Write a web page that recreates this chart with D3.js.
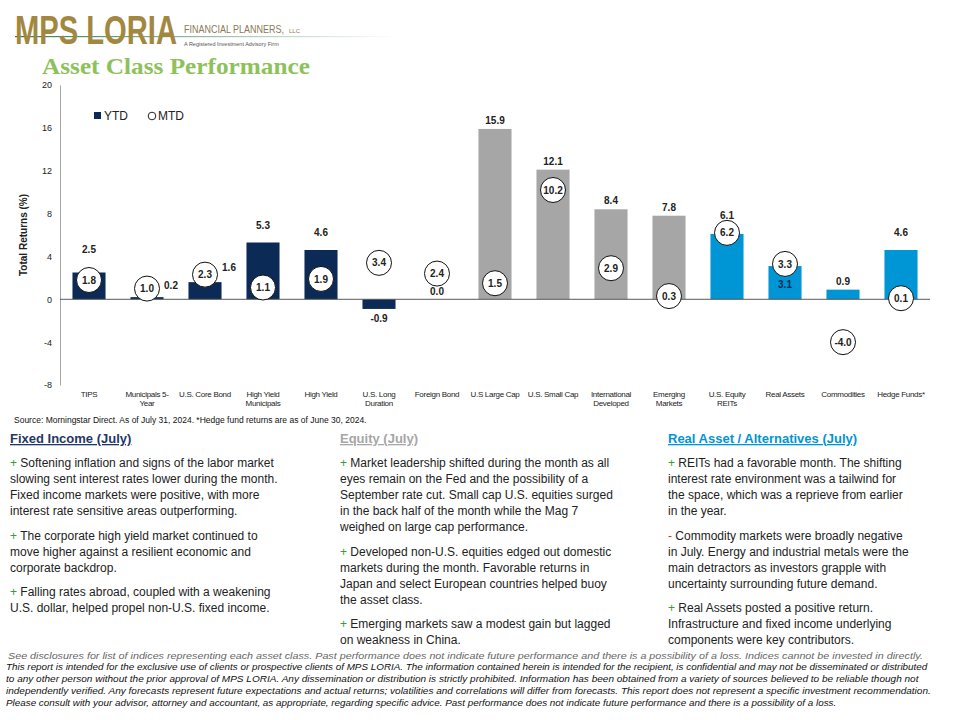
<!DOCTYPE html>
<html>
<head>
<meta charset="utf-8">
<script src="https://cdn.jsdelivr.net/npm/d3@7"></script>
<style>
  body { margin: 0; background: #fff; }
  svg { font-family: "Liberation Sans", Arial, sans-serif; }
</style>
</head>
<body>
<div id="chart"></div>
<script>
// categories and values
var categories = ["TIPS", "Municipals 5-Year", "U.S. Core Bond", "High Yield Municipals", "High Yield",
  "U.S. Long Duration", "Foreign Bond", "U.S Large Cap", "U.S. Small Cap", "International Developed",
  "Emerging Markets", "U.S. Equity REITs", "Real Assets", "Commodities", "Hedge Funds*"];
var categoryLines = [["TIPS"], ["Municipals 5-", "Year"], ["U.S. Core Bond"], ["High Yield", "Municipals"], ["High Yield"],
  ["U.S. Long", "Duration"], ["Foreign Bond"], ["U.S Large Cap"], ["U.S. Small Cap"], ["International", "Developed"],
  ["Emerging", "Markets"], ["U.S. Equity", "REITs"], ["Real Assets"], ["Commodities"], ["Hedge Funds*"]];
var groups = ["fixed", "fixed", "fixed", "fixed", "fixed", "fixed", "fixed",
  "equity", "equity", "equity", "equity", "real", "real", "real", "real"];
var ytd = [2.5, 0.2, 1.6, 5.3, 4.6, -0.9, 0.0, 15.9, 12.1, 8.4, 7.8, 6.1, 3.1, 0.9, 4.6];
var mtd = [1.8, 1.0, 2.3, 1.1, 1.9, 3.4, 2.4, 1.5, 10.2, 2.9, 0.3, 6.2, 3.3, -4.0, 0.1];
var yTicks = [-8, -4, 0, 4, 8, 12, 16, 20];

// label nudges so YTD labels dodge the MTD circles [dx, dy]
var ytdNudge = [[0, -15], [24, -3], [24, -6], [0, -9], [0, -9], [0, 0], [0, 1], [0, 0], [0, 0], [0, 0],
  [0, 0], [0, -10], [0, 27], [0, 0], [0, -9]];

var groupColor = { fixed: "#0b2a55", equity: "#a6a6a6", real: "#0095d5" };

var W = 960, H = 720;
var svg = d3.select("#chart").append("svg").attr("width", W).attr("height", H);

// ---- header ----
var grad = svg.append("defs").append("linearGradient").attr("id", "fade");
grad.append("stop").attr("offset", "0%").attr("stop-color", "#2e7d4f");
grad.append("stop").attr("offset", "100%").attr("stop-color", "#2e7d4f").attr("stop-opacity", 0);
svg.append("rect").attr("x", 15).attr("y", 36).attr("width", 380).attr("height", 1.2).attr("fill", "url(#fade)");

// logo text squeezed horizontally
var logo = svg.append("text").attr("font-size", 40).attr("font-weight", "bold").attr("fill", "#a3873f")
  .text("MPS LORIA");
var lw = logo.node().getComputedTextLength();
logo.attr("transform", "translate(15,44) scale(" + (162 / lw) + ",1)");

var fp = svg.append("text").attr("font-size", 10).attr("fill", "#8a7a55").text("FINANCIAL PLANNERS,");
var fw = fp.node().getComputedTextLength();
fp.attr("transform", "translate(184,33) scale(" + (100 / fw) + ",1)");
svg.append("text").attr("x", 289).attr("y", 33).attr("font-size", 6).attr("fill", "#8a7a55").text("LLC");
svg.append("text").attr("x", 184).attr("y", 46).attr("font-size", 5.5).attr("fill", "#555")
  .text("A Registered Investment Advisory Firm");

var title = svg.append("text")
  .attr("font-family", "'Liberation Serif', 'DejaVu Serif', serif")
  .attr("font-size", 24).attr("font-weight", "bold").attr("fill", "#8dc25a")
  .text("Asset Class Performance");
var tw = title.node().getComputedTextLength();
title.attr("transform", "translate(42,74) scale(" + (268 / tw) + ",1)");

// ---- chart ----
var x = d3.scaleBand().domain(categories).range([60, 930]).paddingInner(0.43).paddingOuter(0.215);
var y = d3.scaleLinear().domain([-8, 20]).range([385, 85]);

var yAxis = svg.append("g").attr("transform", "translate(60,0)")
  .call(d3.axisLeft(y).tickValues(yTicks).tickSize(0).tickPadding(8).tickFormat(function(d) { return String(d); }));
yAxis.select(".domain").attr("stroke", "#a6a6a6");
yAxis.selectAll("text").attr("font-size", 9).attr("fill", "#222")
  .attr("font-family", "'Liberation Sans', Arial, sans-serif");

svg.append("text").attr("transform", "translate(27,235) rotate(-90)")
  .attr("text-anchor", "middle").attr("font-size", 10).attr("font-weight", "bold").attr("fill", "#222")
  .text("Total Returns (%)");

var data = categories.map(function(c, i) {
  return { cat: c, ytd: ytd[i], mtd: mtd[i], group: groups[i], lines: categoryLines[i], nudge: ytdNudge[i] };
});

svg.selectAll(".bar").data(data).enter().append("rect")
  .attr("class", "bar")
  .attr("x", function(d) { return x(d.cat); })
  .attr("width", x.bandwidth())
  .attr("y", function(d) { return y(Math.max(0, d.ytd)); })
  .attr("height", function(d) { return Math.abs(y(d.ytd) - y(0)); })
  .attr("fill", function(d) { return groupColor[d.group]; });

svg.append("line").attr("x1", 60).attr("x2", 930).attr("y1", y(0)).attr("y2", y(0))
  .attr("stroke", "#595959").attr("stroke-width", 1);

// YTD labels
svg.selectAll(".ytdLabel").data(data).enter().append("text")
  .attr("class", "ytdLabel")
  .attr("text-anchor", "middle").attr("font-size", 10).attr("font-weight", "bold")
  .attr("fill", function(d) { return d.cat === "Real Assets" ? "#0b2a55" : "#222"; })
  .attr("x", function(d) { return x(d.cat) + x.bandwidth() / 2 + d.nudge[0]; })
  .attr("y", function(d) {
    var base = d.ytd < 0 ? y(d.ytd) + 13 : y(d.ytd) - 5;
    return base + d.nudge[1];
  })
  .text(function(d) { return d.ytd.toFixed(1); });

// MTD circles
var mt = svg.selectAll(".mtd").data(data).enter().append("g").attr("class", "mtd")
  .attr("transform", function(d) { return "translate(" + (x(d.cat) + x.bandwidth() / 2) + "," + y(d.mtd) + ")"; });
mt.append("circle").attr("r", 12.5).attr("fill", "#fff").attr("stroke", "#111").attr("stroke-width", 1);
mt.append("text").attr("text-anchor", "middle").attr("dy", "0.36em")
  .attr("font-size", 10).attr("font-weight", "bold").attr("fill", "#222")
  .text(function(d) { return d.mtd.toFixed(1); });

// category labels
svg.selectAll(".cat").data(data).enter().append("text")
  .attr("class", "cat").attr("text-anchor", "middle")
  .attr("font-size", 8).attr("letter-spacing", "-0.3").attr("fill", "#222")
  .attr("x", function(d) { return x(d.cat) + x.bandwidth() / 2; })
  .attr("y", 397)
  .each(function(d) {
    var t = d3.select(this);
    d.lines.forEach(function(l, i) {
      t.append("tspan").attr("x", x(d.cat) + x.bandwidth() / 2).attr("dy", i === 0 ? 0 : 9).text(l);
    });
  });

// legend
svg.append("rect").attr("x", 94).attr("y", 112).attr("width", 7).attr("height", 7).attr("fill", "#0b2a55");
svg.append("text").attr("x", 104).attr("y", 120).attr("font-size", 12).attr("fill", "#222").text("YTD");
svg.append("circle").attr("cx", 152).attr("cy", 116).attr("r", 3.8).attr("fill", "#fff").attr("stroke", "#222");
svg.append("text").attr("x", 158).attr("y", 120).attr("font-size", 12).attr("fill", "#222").text("MTD");

svg.append("text").attr("x", 14).attr("y", 423).attr("font-size", 8.5).attr("fill", "#111")
  .text("Source: Morningstar Direct. As of July 31, 2024. *Hedge fund returns are as of June 30, 2024.");

// ---- commentary ----
var fixedHead = "Fixed Income (July)";
var fixedText = [
  ["+", "Softening inflation and signs of the labor market", "slowing sent interest rates lower during the month.",
   "Fixed income markets were positive, with more", "interest rate sensitive areas outperforming."],
  ["+", "The corporate high yield market continued to", "move higher against a resilient economic and", "corporate backdrop."],
  ["+", "Falling rates abroad, coupled with a weakening", "U.S. dollar, helped propel non-U.S. fixed income."]
];
var equityHead = "Equity (July)";
var equityText = [
  ["+", "Market leadership shifted during the month as all", "eyes remain on the Fed and the possibility of a",
   "September rate cut. Small cap U.S. equities surged", "in the back half of the month while the Mag 7",
   "weighed on large cap performance."],
  ["+", "Developed non-U.S. equities edged out domestic", "markets during the month. Favorable returns in",
   "Japan and select European countries helped buoy", "the asset class."],
  ["+", "Emerging markets saw a modest gain but lagged", "on weakness in China."]
];
var realHead = "Real Asset / Alternatives (July)";
var realText = [
  ["+", "REITs had a favorable month. The shifting", "interest rate environment was a tailwind for",
   "the space, which was a reprieve from earlier", "in the year."],
  ["-", "Commodity markets were broadly negative", "in July. Energy and industrial metals were the",
   "main detractors as investors grapple with", "uncertainty surrounding future demand."],
  ["+", "Real Assets posted a positive return.", "Infrastructure and fixed income underlying",
   "components were key contributors."]
];

function column(x0, head, headColor, paras) {
  var g = svg.append("g");
  g.append("text").attr("x", x0).attr("y", 443).attr("font-size", 13).attr("font-weight", "bold")
    .attr("fill", headColor).attr("text-decoration", "underline").text(head);
  var yy = 467;
  paras.forEach(function(p) {
    var lines = p.slice(1);
    lines.forEach(function(l, i) {
      var t = g.append("text").attr("x", x0).attr("y", yy).attr("font-size", 12).attr("fill", "#222");
      if (i === 0) {
        t.append("tspan").attr("fill", p[0] === "+" ? "#3a9a3a" : "#d03030").text(p[0] + " ");
      }
      t.append("tspan").text(l);
      yy += 16;
    });
    yy += 8.5;
  });
}
column(10, fixedHead, "#1f3864", fixedText);
column(340, equityHead, "#a6a6a6", equityText);
column(668, realHead, "#0095d5", realText);

// ---- footer ----
var disclaimer = "See disclosures for list of indices representing each asset class. Past performance does not indicate future performance and there is a possibility of a loss. Indices cannot be invested in directly.";
var footer = [
  ["This report is intended for the exclusive use of clients or prospective clients of MPS LORIA. The information contained herein is intended for the recipient, is confidential and may not be disseminated or distributed", 921],
  ["to any other person without the prior approval of MPS LORIA. Any dissemination or distribution is strictly prohibited. Information has been obtained from a variety of sources believed to be reliable though not", 913],
  ["independently verified. Any forecasts represent future expectations and actual returns; volatilities and correlations will differ from forecasts. This report does not represent a specific investment recommendation.", 926],
  ["Please consult with your advisor, attorney and accountant, as appropriate, regarding specific advice. Past performance does not indicate future performance and there is a possibility of a loss.", 830]
];
function squeezed(str, x0, y0, width, size, color) {
  var t = svg.append("text").attr("font-size", size).attr("font-style", "italic").attr("fill", color).text(str);
  var w = t.node().getComputedTextLength();
  t.attr("transform", "translate(" + x0 + "," + y0 + ") scale(" + (width / w) + ",1)");
}
squeezed(disclaimer, 8, 659, 917, 9, "#666");
footer.forEach(function(f, i) {
  squeezed(f[0], 6, 670 + i * 12, f[1], 8.3, "#111");
});
</script>
</body>
</html>
